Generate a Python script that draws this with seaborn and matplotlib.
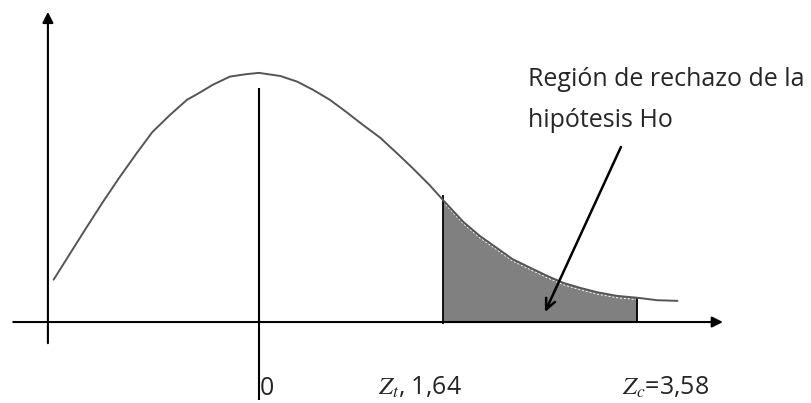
import numpy as np
import pandas as pd
import matplotlib
matplotlib.use("Agg")
import matplotlib.pyplot as plt
import seaborn as sns

sns.set_style("white")
plt.rcParams['font.family'] = ['Open Sans', 'DejaVu Sans']
plt.rcParams['mathtext.fontset'] = 'stix'

# curve (z units, density)
z_vals = [-1.83, -1.68, -1.54, -1.39, -1.24, -1.09, -0.95, -0.79, -0.64, -0.55,
          -0.41, -0.26, -0.11, 0.00, 0.19, 0.34, 0.48, 0.63, 0.78, 0.93,
          1.08, 1.23, 1.37, 1.52, 1.64, 1.82, 1.97, 2.12, 2.26, 2.42,
          2.57, 2.71, 2.86, 3.01, 3.19, 3.37, 3.55, 3.73]
dens_vals = [0.068, 0.111, 0.151, 0.193, 0.233, 0.271, 0.305, 0.333, 0.357, 0.366,
             0.381, 0.394, 0.398, 0.400, 0.395, 0.386, 0.373, 0.357, 0.337, 0.316,
             0.296, 0.271, 0.247, 0.220, 0.196, 0.161, 0.138, 0.119, 0.101, 0.087,
             0.074, 0.063, 0.055, 0.048, 0.042, 0.039, 0.035, 0.034]

z_t = 1.64          # critical value (start of the shaded tail)
z_shade_end = 3.37  # where the shading stops in the drawing
label_zero = "0"
label_zt = r"$Z_{t}$, 1,64"
label_zc = r"$Z_{c}$=3,58"
region_lines = ["Región de rechazo de la", "hipótesis Ho"]

df = pd.DataFrame({"z": z_vals, "dens": dens_vals})

fig = plt.figure(figsize=(8.12, 4.03), dpi=100)
ax = fig.add_axes([0, 0, 1, 1])
ax.set_xlim(-2.308, 4.929)
ax.set_ylim(-0.130, 0.517)
ax.set_axis_off()

# shaded rejection region
tail = df[(df.z >= z_t) & (df.z <= z_shade_end)]
ax.fill_between(tail.z, 0, tail.dens, color="#808080", linewidth=0)
ax.plot(tail.z, tail.dens - 0.003, color="white", lw=0.7, ls=(0, (2, 2)))
ax.vlines(z_t, -0.003, tail.dens.iloc[0] + 0.008, color="black", lw=1.3)
ax.vlines(z_shade_end, 0, tail.dens.iloc[-1], color="black", lw=1.3)

# the bell curve
sns.lineplot(data=df, x="z", y="dens", ax=ax, color="#555555", lw=1.4,
             sort=False, legend=False)

# axes drawn as arrows
ax.annotate("", xy=(4.135, 0), xytext=(-2.19, 0),
            arrowprops=dict(arrowstyle="-|>", color="black", lw=1.5,
                            mutation_scale=16, shrinkA=0, shrinkB=0))
ax.annotate("", xy=(-1.881, 0.498), xytext=(-1.881, -0.034),
            arrowprops=dict(arrowstyle="-|>", color="black", lw=1.5,
                            mutation_scale=16, shrinkA=0, shrinkB=0))

# centre line at z = 0
ax.vlines(0, -0.125, 0.376, color="black", lw=1.5)

# pointer to the region
ax.annotate("", xy=(2.549, 0.016), xytext=(3.226, 0.281),
            arrowprops=dict(arrowstyle="->,head_length=0.75,head_width=0.35",
                            color="black", lw=1.8, shrinkA=0, shrinkB=0))

ax.text(2.398, 0.379, region_lines[0], fontsize=18, va="baseline", ha="left")
ax.text(2.398, 0.313, region_lines[1], fontsize=18, va="baseline", ha="left")

ax.text(0.01, -0.117, label_zero, fontsize=18, va="baseline", ha="left")
ax.text(1.06, -0.117, label_zt, fontsize=18, va="baseline", ha="left")
ax.text(3.235, -0.117, label_zc, fontsize=18, va="baseline", ha="left")

fig.savefig("out.png", dpi=100)
